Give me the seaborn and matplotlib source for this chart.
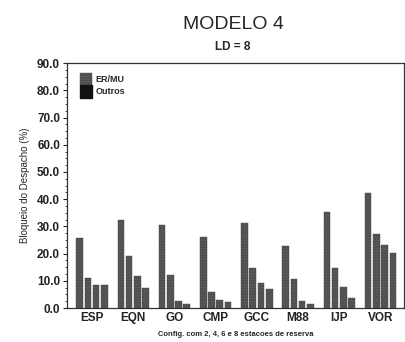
import numpy as np
import pandas as pd
import matplotlib
matplotlib.use("Agg")
import matplotlib.pyplot as plt
import seaborn as sns
from matplotlib.patches import Patch
from matplotlib.ticker import MultipleLocator, FormatStrFormatter

# Bloqueio do despacho (%) por algoritmo, para 2, 4, 6 e 8 estacoes de reserva
algoritmos = ["ESP", "EQN", "GO", "CMP", "GCC", "M88", "IJP", "VOR"]
configs = ["2", "4", "6", "8"]
res_2 = [25.6, 32.4, 30.6, 26.2, 31.1, 22.7, 35.2, 42.1]
res_4 = [11.1, 19.0, 12.1, 5.7, 14.8, 10.6, 14.8, 27.1]
res_6 = [8.6, 11.6, 2.7, 3.1, 9.2, 2.5, 7.6, 23.0]
res_8 = [8.6, 7.5, 1.6, 2.2, 7.0, 1.6, 3.7, 20.4]

rows = []
for cfg, vals in zip(configs, [res_2, res_4, res_6, res_8]):
    for alg, v in zip(algoritmos, vals):
        rows.append({"algoritmo": alg, "config": cfg, "bloqueio": v})
df = pd.DataFrame(rows)

sns.set_style("ticks")
plt.rcParams["font.family"] = ["Liberation Sans", "DejaVu Sans"]

fig = plt.figure(figsize=(4.06, 3.42), dpi=100)
ax = fig.add_axes([0.165, 0.0994, 0.83, 0.716])

bar_gray = "#5c5c5c"
sns.barplot(data=df, x="algoritmo", y="bloqueio", hue="config",
            order=algoritmos, hue_order=configs,
            palette=[bar_gray] * 4, width=0.8,
            edgecolor="#444444", linewidth=0.3, legend=False, ax=ax)
# barras mais finas, com espaco branco entre elas
for p in ax.patches:
    w = p.get_width()
    p.set_x(p.get_x() + w * 0.1)
    p.set_width(w * 0.8)
    p.set_hatch("......")

ax.set_xlim(-0.607, 7.57)
ax.set_ylim(0, 90)
ax.yaxis.set_major_locator(MultipleLocator(10))
ax.yaxis.set_minor_locator(MultipleLocator(2.5))
ax.yaxis.set_major_formatter(FormatStrFormatter("%.1f"))
ax.tick_params(axis="y", which="major", length=3, width=0.8, labelsize=8.5, pad=2)
ax.tick_params(axis="y", which="minor", length=1.5, width=0.6)
ax.tick_params(axis="x", length=0, labelsize=8.5, pad=3)
for lbl in ax.get_yticklabels() + ax.get_xticklabels():
    lbl.set_fontweight("bold")
    lbl.set_color("#222222")

for s in ax.spines.values():
    s.set_linewidth(0.9)
    s.set_color("#333333")

ax.set_xlabel("Config. com 2, 4, 6 e 8 estacoes de reserva", fontsize=5.5,
              fontweight="bold", labelpad=5)
ax.set_ylabel("Bloqueio do Despacho (%)", fontsize=7, labelpad=5)

handles = [Patch(facecolor=bar_gray, edgecolor="#444444", hatch="......", linewidth=0.3),
           Patch(facecolor="#111111", edgecolor="#111111")]
ax.legend(handles, ["ER/MU", "Outros"], loc="upper left", bbox_to_anchor=(0.02, 0.985),
          frameon=False, handlelength=1.3, handleheight=1.7,
          handletextpad=0.4, labelspacing=0.0, borderpad=0.2,
          prop={"weight": "bold", "size": 6.5})

fig.text(0.574, 0.928, "MODELO 4", ha="center", va="center", fontsize=14)
fig.text(0.574, 0.862, "LD = 8", ha="center", va="center", fontsize=8.5, fontweight="bold")

fig.savefig("out.png", dpi=100)
